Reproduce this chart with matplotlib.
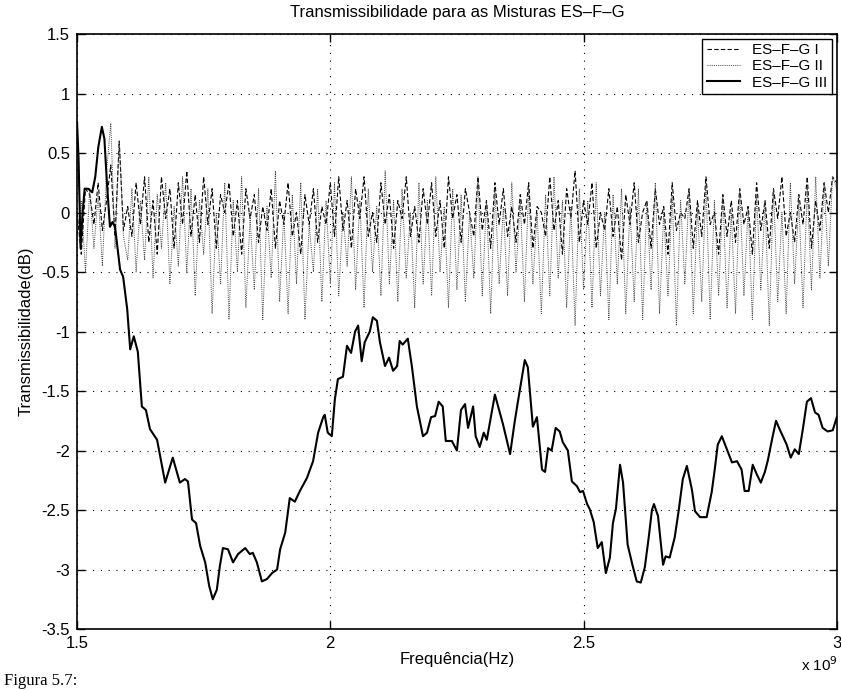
import numpy as np
import matplotlib
matplotlib.use("Agg")
import matplotlib.pyplot as plt

plt.rcParams['font.family'] = ['Liberation Sans', 'DejaVu Sans']
plt.rcParams['axes.unicode_minus'] = False

title = "Transmissibilidade para as Misturas ES\u2013F\u2013G"
xlabel = "Frequência(Hz)"
ylabel = "Transmissibilidade(dB)"
labels = ["ES\u2013F\u2013G I", "ES\u2013F\u2013G II", "ES\u2013F\u2013G III"]
caption = "Figura 5.7:"

# frequency range (x 1e9 Hz)
f_start, f_stop = 1.5, 3.0

# Series I (dashed) and II (dotted), read on an even frequency grid
serie_I = [0.0, -0.35, 0.2, 0.15, -0.1, 0.25, -0.15, 0.1, 0.4, -0.2, 0.6, -0.15, 0.05,
           -0.2, 0.25, -0.1, 0.3, -0.25, 0.1, -0.35, 0.3, -0.05, 0.2, -0.3, 0.25, -0.1, 0.35, -0.2, 0.15, -0.25, 0.3,
           -0.1, 0.2, -0.3, 0.15, 0.0, 0.25, -0.2, 0.1, -0.35, 0.2, -0.05, 0.15, -0.25, 0.05, -0.15, 0.2, -0.3, 0.1, -0.1, 0.25, -0.2, 0.0, -0.35, 0.15, -0.1,
           0.2, -0.25, 0.05, -0.1, 0.25, -0.2, 0.3, -0.15, 0.1, -0.3, 0.2, -0.05, 0.3, -0.2, 0.0, -0.25, 0.25, -0.1, 0.15, -0.3, 0.1, -0.05, 0.3, -0.2, 0.05,
           -0.25, 0.2, -0.1, 0.25, -0.2, 0.1, -0.3, 0.3, -0.05, 0.15, -0.25, 0.2, 0.0, -0.2, 0.3, -0.15, 0.1, -0.3, 0.25, -0.1, 0.2, -0.2, 0.05, -0.25, 0.15,
           -0.1, 0.25, -0.3, 0.05, 0.0, -0.2, 0.3, -0.15, 0.1, -0.35, 0.2, -0.05, 0.35, -0.25, 0.1, -0.1, 0.25, -0.3, 0.0, -0.15, 0.2, -0.2, 0.05, -0.4, 0.15,
           -0.1, 0.25, -0.25, 0.0, 0.1, -0.3, 0.2, -0.1, 0.05, -0.35, 0.25, -0.15, 0.0, -0.05, 0.2, -0.3, 0.1, -0.2, 0.3, -0.1, 0.0, -0.35, 0.15, -0.2, 0.1,
           -0.25, 0.2, -0.1, 0.05, -0.35, 0.25, -0.15, 0.1, -0.3, 0.2, -0.05, 0.3, -0.2, 0.0, -0.25, 0.15, -0.1, 0.3, -0.3, 0.1, -0.15, 0.25, 0.0, 0.3, 0.25]

serie_II = [-0.2, 0.1, -0.5, 0.2, -0.3, 0.15, -0.45, 0.35, 0.75, -0.3, 0.6, -0.2, -0.4,
            0.2, -0.5, 0.1, -0.4, 0.3, -0.55, 0.15, -0.3, 0.25, -0.6, 0.05, -0.45, 0.3, -0.5, 0.2, -0.7, 0.1, -0.35,
            0.2, -0.85, 0.0, -0.6, 0.25, -0.9, 0.1, -0.5, 0.3, -0.8, -0.05, -0.65, 0.2, -0.9, 0.05, -0.55, 0.35, -0.75, 0.0, -0.85, 0.15, -0.6, 0.25, -0.9, -0.1,
            -0.5, 0.2, -0.75, 0.1, -0.6, 0.25, -0.7, 0.0, -0.45, 0.3, -0.65, 0.1, -0.8, 0.2, -0.5, 0.05, -0.7, 0.35, -0.6, 0.1, -0.75, 0.2, -0.55, 0.0, -0.8,
            0.25, -0.6, 0.1, -0.7, 0.3, -0.5, 0.05, -0.8, 0.2, -0.65, 0.15, -0.75, 0.0, -0.55, 0.3, -0.7, 0.1, -0.85, 0.2, -0.6, 0.05, -0.7, 0.25, -0.5, 0.1,
            -0.75, 0.2, -0.6, 0.0, -0.85, 0.15, -0.7, 0.3, -0.55, 0.1, -0.8, 0.05, -0.95, 0.2, -0.65, 0.1, -0.8, 0.25, -0.7, 0.0, -0.9, 0.15, -0.6, 0.2, -0.85,
            0.05, -0.75, 0.2, -0.9, 0.1, -0.65, 0.25, -0.85, 0.0, -0.7, 0.15, -0.95, 0.1, -0.6, 0.2, -0.85, 0.05, -0.75, 0.25, -0.9, 0.1, -0.7, 0.15, -0.8, 0.0,
            -0.85, 0.2, -0.7, 0.05, -0.9, 0.15, -0.65, 0.1, -0.95, 0.2, -0.75, 0.0, -0.85, 0.25, -0.6, 0.1, -0.8, 0.2, -0.65, 0.3, -0.55, 0.25, -0.45, 0.3, 0.2]

# Series III (solid) traced points: frequency (x 1e9 Hz) and dB
freq_III = [1.500, 1.503, 1.507, 1.511, 1.515, 1.522, 1.530, 1.536, 1.542, 1.549, 1.554, 1.559, 1.565, 1.570,
            1.575, 1.581, 1.585, 1.591, 1.599, 1.605, 1.612, 1.620, 1.628, 1.636, 1.644, 1.658, 1.674, 1.689,
            1.703, 1.713, 1.719, 1.727, 1.735, 1.743, 1.753, 1.761, 1.768, 1.776, 1.782, 1.788, 1.798, 1.808,
            1.818, 1.832, 1.841, 1.847, 1.855, 1.865, 1.875, 1.885, 1.895, 1.901, 1.911, 1.920, 1.930, 1.940,
            1.954, 1.966, 1.976, 1.986, 1.989, 1.995, 2.003, 2.009, 2.015, 2.025, 2.033, 2.041, 2.049, 2.055,
            2.062, 2.068, 2.078, 2.084, 2.092, 2.098, 2.108, 2.116, 2.124, 2.132, 2.137, 2.143, 2.153, 2.161,
            2.171, 2.183, 2.191, 2.199, 2.207, 2.214, 2.222, 2.228, 2.240, 2.250, 2.258, 2.266, 2.272, 2.282,
            2.287, 2.295, 2.303, 2.309, 2.325, 2.341, 2.355, 2.364, 2.370, 2.384, 2.390, 2.400, 2.408, 2.418,
            2.424, 2.430, 2.437, 2.445, 2.453, 2.459, 2.469, 2.477, 2.487, 2.493, 2.499, 2.507, 2.512, 2.520,
            2.528, 2.536, 2.544, 2.552, 2.558, 2.564, 2.572, 2.578, 2.587, 2.597, 2.605, 2.613, 2.621, 2.629,
            2.635, 2.639, 2.647, 2.657, 2.662, 2.670, 2.680, 2.688, 2.696, 2.704, 2.714, 2.720, 2.730, 2.743,
            2.753, 2.759, 2.765, 2.773, 2.783, 2.793, 2.803, 2.812, 2.818, 2.826, 2.834, 2.842, 2.850, 2.858,
            2.864, 2.872, 2.880, 2.887, 2.901, 2.909, 2.917, 2.925, 2.933, 2.941, 2.949, 2.957, 2.964, 2.972,
            2.982, 2.992, 3.000]
serie_III = [0.76, 0.45, -0.30, 0.00, 0.20, 0.20, 0.17, 0.30, 0.55, 0.72, 0.62, 0.25, -0.12, -0.08,
             -0.12, -0.34, -0.48, -0.54, -0.81, -1.15, -1.04, -1.17, -1.63, -1.66, -1.82, -1.91, -2.27, -2.06,
             -2.27, -2.24, -2.26, -2.58, -2.61, -2.80, -2.94, -3.14, -3.25, -3.17, -2.97, -2.82, -2.83, -2.94,
             -2.87, -2.82, -2.87, -2.86, -2.94, -3.10, -3.08, -3.03, -3.00, -2.83, -2.69, -2.40, -2.43, -2.34,
             -2.23, -2.09, -1.85, -1.72, -1.70, -1.85, -1.88, -1.57, -1.40, -1.38, -1.12, -1.18, -1.00, -0.95,
             -1.25, -1.09, -1.00, -0.88, -0.91, -1.09, -1.29, -1.22, -1.33, -1.29, -1.08, -1.11, -1.06, -1.29,
             -1.63, -1.88, -1.85, -1.72, -1.71, -1.59, -1.63, -1.92, -1.92, -2.00, -1.66, -1.61, -1.81, -1.63,
             -1.88, -1.97, -1.85, -1.91, -1.53, -1.78, -2.03, -1.76, -1.60, -1.24, -1.30, -1.80, -1.72, -2.16,
             -2.18, -1.98, -2.00, -1.81, -1.84, -1.93, -2.00, -2.26, -2.30, -2.35, -2.34, -2.45, -2.49, -2.60,
             -2.82, -2.77, -3.03, -2.90, -2.61, -2.49, -2.12, -2.27, -2.79, -2.97, -3.10, -3.11, -2.98, -2.72,
             -2.50, -2.45, -2.55, -2.96, -2.89, -2.90, -2.73, -2.50, -2.24, -2.13, -2.33, -2.51, -2.56, -2.56,
             -2.35, -2.16, -1.95, -1.88, -1.99, -2.10, -2.09, -2.16, -2.34, -2.34, -2.12, -2.20, -2.27, -2.18,
             -2.08, -1.91, -1.75, -1.82, -1.95, -2.06, -1.99, -2.03, -1.82, -1.59, -1.56, -1.68, -1.70, -1.81,
             -1.84, -1.83, -1.72]

x_ticks = [1.5, 2.0, 2.5, 3.0]
x_ticklabels = ["1.5", "2", "2.5", "3"]
y_ticks = [-3.5, -3, -2.5, -2, -1.5, -1, -0.5, 0, 0.5, 1, 1.5]
y_ticklabels = ["-3.5", "-3", "-2.5", "-2", "-1.5", "-1", "-0.5", "0", "0.5", "1", "1.5"]

scale = 1e9
freq_grid = np.linspace(f_start, f_stop, len(serie_I)) * scale

fig = plt.figure(figsize=(8.41, 6.90), dpi=100)
ax = fig.add_axes([0.0916, 0.0884, 0.9034, 0.8623])

l1, = ax.plot(freq_grid, serie_I, color='black', lw=0.8, ls=(0, (4, 2)))
l2, = ax.plot(freq_grid, serie_II, color='#444444', lw=0.7, ls=(0, (1, 1.2)))
l3, = ax.plot(np.array(freq_III) * scale, serie_III, color='black', lw=1.5)

ax.set_xlim(f_start * scale, f_stop * scale)
ax.set_ylim(-3.5, 1.5)
ax.set_xticks(np.array(x_ticks) * scale)
ax.set_xticklabels(x_ticklabels)
ax.set_yticks(y_ticks)
ax.set_yticklabels(y_ticklabels)
ax.tick_params(direction='in', length=6, width=1, top=True, right=True, labelsize=12, pad=5)
ax.grid(True, color='black', ls=(0, (1, 6)), lw=0.8)
for sp in ax.spines.values():
    sp.set_linewidth(1.2)

ax.set_title(title, fontsize=12, pad=12)
ax.set_xlabel(xlabel, fontsize=12, labelpad=1)
ax.set_ylabel(ylabel, fontsize=12, labelpad=6)

leg = ax.legend([l1, l2, l3], labels, loc='upper right', fontsize=11, fancybox=False,
                framealpha=1, edgecolor='black', handlelength=2.2, borderpad=0.3,
                labelspacing=0.15, borderaxespad=0.3, handletextpad=0.8)
leg.get_frame().set_linewidth(1.0)

fig.text(0.975, 0.037, r"x 10$^{9}$", fontsize=11, ha='center', va='center')
fig.text(0.005, 0.001, caption, fontsize=12, family='Liberation Serif', ha='left', va='bottom')

fig.savefig("out.png", dpi=100)
